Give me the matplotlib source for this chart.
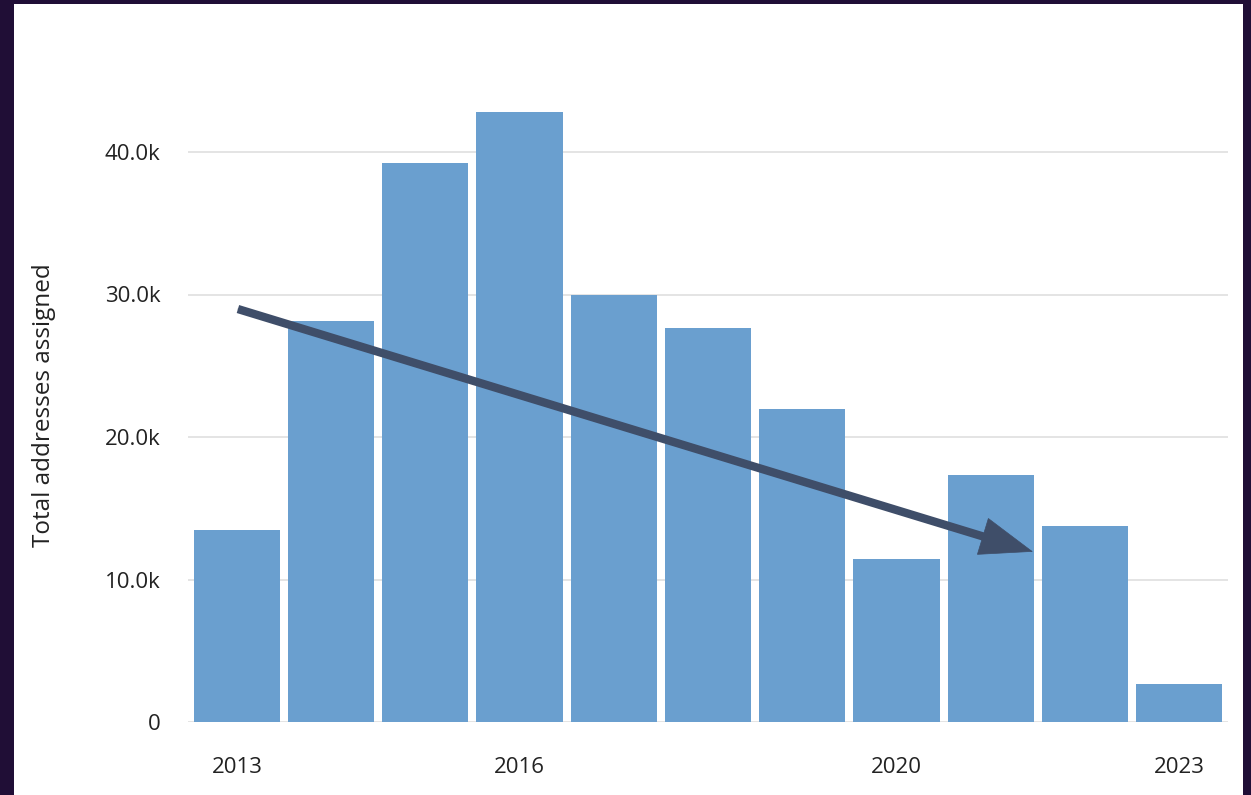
import matplotlib
matplotlib.use("Agg")
import matplotlib.pyplot as plt

years = [2013, 2014, 2015, 2016, 2017, 2018, 2019, 2020, 2021, 2022, 2023]
values = [13470, 28140, 39200, 42800, 29960, 27650, 21960, 11440, 17330, 13750, 2670]
xtick_years = [2013, 2016, 2020, 2023]
yticks = [0, 10000, 20000, 30000, 40000]
ytick_labels = ["0", "10.0k", "20.0k", "30.0k", "40.0k"]
arrow_start = (2013.01, 28980)
arrow_end = (2021.45, 11950)

plt.rcParams['font.family'] = ['Open Sans', 'DejaVu Sans']

W, H = 1251, 795
fig = plt.figure(figsize=(W / 100, H / 100), dpi=100)
fig.patch.set_facecolor('#200e36')

bg = fig.add_axes([14 / W, 0, (1243 - 14) / W, (H - 4) / H], zorder=-10)
bg.set_facecolor('white')
bg.set_xticks([])
bg.set_yticks([])
for s in bg.spines.values():
    s.set_visible(False)

ax = fig.add_axes([188 / W, (H - 722) / H, 1040 / W, 641.25 / H], zorder=1)
ax.set_facecolor('none')
ax.bar(years, values, width=0.915, color='#6a9fcf', zorder=2)
ax.set_xlim(2012.48, 2023.52)
ax.set_ylim(0, 45000)
ax.set_yticks(yticks)
ax.set_yticklabels(ytick_labels)
ax.set_xticks(xtick_years)
ax.set_xticklabels([str(y) for y in xtick_years])
ax.tick_params(axis='both', length=0, labelsize=16, colors='#222222')
ax.tick_params(axis='y', pad=20)
ax.tick_params(axis='x', pad=25)
for s in ax.spines.values():
    s.set_visible(False)
ax.grid(axis='y', color='#e2e2e2', linewidth=1.3, zorder=1)
ax.set_axisbelow(True)

arrow_color = '#3f4e69'
# shaft
ax.annotate('', xy=arrow_end, xytext=arrow_start,
            arrowprops=dict(arrowstyle='-', color=arrow_color, lw=6,
                            capstyle='butt', shrinkA=0, shrinkB=30),
            zorder=5)
# head
ax.annotate('', xy=arrow_end, xytext=arrow_start,
            arrowprops=dict(arrowstyle='-|>,head_length=3.7,head_width=1.35',
                            color=arrow_color, lw=0.5, joinstyle='miter',
                            shrinkA=0, shrinkB=0),
            zorder=6)

fig.text(44 / W, (H - 405) / H, 'Total addresses assigned', rotation=90,
         ha='center', va='center', fontsize=17.5, color='#222222')

fig.savefig('out.png', dpi=100, facecolor=fig.get_facecolor())
